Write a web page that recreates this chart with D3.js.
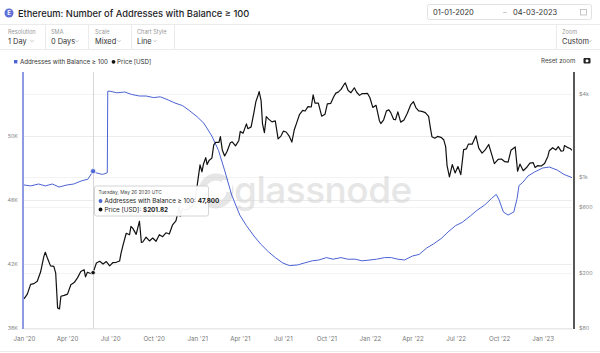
<!DOCTYPE html>
<html>
<head>
<meta charset="utf-8">
<script src="https://cdn.jsdelivr.net/npm/d3@7"></script>
<style>
  body { margin: 0; background: #fff; font-family: Inter, "Noto Sans", sans-serif; }
  svg text { font-family: Inter, "Noto Sans", sans-serif; }
</style>
</head>
<body>
<div id="svgOutput"></div>
<script>
// data

const addrDates = ["2020-01-01","2020-01-15","2020-02-01","2020-02-15","2020-03-01","2020-03-15","2020-04-01","2020-04-15","2020-05-01","2020-05-15","2020-05-26","2020-06-01","2020-06-15","2020-06-25","2020-06-26","2020-07-01","2020-07-15","2020-08-01","2020-08-15","2020-09-01","2020-09-15","2020-10-01","2020-10-15","2020-11-01","2020-11-15","2020-12-01","2020-12-15","2021-01-01","2021-01-15","2021-02-01","2021-02-15","2021-03-01","2021-03-15","2021-04-01","2021-04-15","2021-05-01","2021-05-15","2021-06-01","2021-06-15","2021-07-01","2021-07-15","2021-08-01","2021-08-15","2021-09-01","2021-09-15","2021-10-01","2021-10-15","2021-11-01","2021-11-15","2021-12-01","2021-12-15","2022-01-01","2022-01-15","2022-02-01","2022-02-15","2022-03-01","2022-03-15","2022-04-01","2022-04-15","2022-05-01","2022-05-15","2022-06-01","2022-06-15","2022-07-01","2022-07-15","2022-08-01","2022-08-15","2022-09-01","2022-09-15","2022-09-25","2022-10-01","2022-10-10","2022-10-20","2022-11-01","2022-11-08","2022-11-12","2022-11-20","2022-12-01","2022-12-15","2023-01-01","2023-01-15","2023-02-01","2023-02-15","2023-03-04"];
const addrValues = [46940,46880,47000,46880,47000,46810,46940,47000,47190,47300,47800,47700,47600,47700,52800,52800,52700,52750,52600,52500,52500,52400,52450,52250,52060,51900,51600,51200,50800,50000,49100,47750,46300,45060,44400,43750,43250,42750,42400,42060,41900,41940,42060,42200,42250,42400,42300,42400,42300,42300,42200,42250,42300,42400,42400,42300,42250,42500,42600,43000,43250,43600,44000,44400,44600,45000,45350,45700,46100,46350,46000,45250,45060,45250,46100,46900,47100,47500,47750,48000,48060,47870,47600,47400];

const priceDates = ["2020-01-01","2020-01-08","2020-01-15","2020-01-22","2020-01-29","2020-02-05","2020-02-12","2020-02-15","2020-02-19","2020-02-26","2020-03-04","2020-03-08","2020-03-12","2020-03-16","2020-03-19","2020-03-26","2020-04-02","2020-04-09","2020-04-16","2020-04-23","2020-04-30","2020-05-07","2020-05-10","2020-05-14","2020-05-21","2020-05-26","2020-06-02","2020-06-09","2020-06-16","2020-06-23","2020-06-30","2020-07-07","2020-07-14","2020-07-21","2020-07-24","2020-07-28","2020-08-04","2020-08-11","2020-08-14","2020-08-18","2020-08-25","2020-09-01","2020-09-05","2020-09-08","2020-09-15","2020-09-22","2020-09-29","2020-10-06","2020-10-13","2020-10-20","2020-10-27","2020-11-03","2020-11-10","2020-11-17","2020-11-24","2020-11-26","2020-12-01","2020-12-08","2020-12-15","2020-12-22","2020-12-29","2021-01-03","2021-01-07","2021-01-11","2021-01-14","2021-01-19","2021-01-22","2021-01-26","2021-02-01","2021-02-05","2021-02-09","2021-02-16","2021-02-19","2021-02-23","2021-02-28","2021-03-05","2021-03-12","2021-03-16","2021-03-23","2021-03-30","2021-04-02","2021-04-08","2021-04-15","2021-04-18","2021-04-25","2021-05-01","2021-05-05","2021-05-10","2021-05-12","2021-05-16","2021-05-19","2021-05-23","2021-05-27","2021-06-01","2021-06-08","2021-06-15","2021-06-21","2021-06-27","2021-07-02","2021-07-08","2021-07-14","2021-07-20","2021-07-25","2021-07-30","2021-08-05","2021-08-12","2021-08-17","2021-08-23","2021-08-30","2021-09-03","2021-09-07","2021-09-14","2021-09-21","2021-09-28","2021-10-03","2021-10-10","2021-10-17","2021-10-21","2021-10-26","2021-11-01","2021-11-08","2021-11-10","2021-11-16","2021-11-22","2021-11-29","2021-12-04","2021-12-10","2021-12-15","2021-12-21","2021-12-27","2022-01-01","2022-01-07","2022-01-14","2022-01-21","2022-01-24","2022-01-30","2022-02-05","2022-02-10","2022-02-14","2022-02-20","2022-02-24","2022-03-01","2022-03-07","2022-03-14","2022-03-21","2022-03-28","2022-04-03","2022-04-08","2022-04-14","2022-04-21","2022-04-28","2022-05-05","2022-05-09","2022-05-12","2022-05-18","2022-05-24","2022-05-31","2022-06-06","2022-06-10","2022-06-13","2022-06-18","2022-06-24","2022-06-30","2022-07-06","2022-07-12","2022-07-18","2022-07-24","2022-07-28","2022-08-05","2022-08-13","2022-08-19","2022-08-26","2022-09-02","2022-09-09","2022-09-15","2022-09-21","2022-09-29","2022-10-06","2022-10-13","2022-10-20","2022-10-26","2022-11-04","2022-11-09","2022-11-14","2022-11-21","2022-11-28","2022-12-05","2022-12-12","2022-12-16","2022-12-22","2022-12-29","2023-01-05","2023-01-12","2023-01-15","2023-01-22","2023-01-29","2023-02-03","2023-02-09","2023-02-14","2023-02-16","2023-02-22","2023-02-28","2023-03-03","2023-03-04"];
const priceValues = [130,141,166,168,175,204,265,284,260,226,224,200,112,110,136,138,141,165,171,185,206,212,188,203,199,202,237,244,233,243,226,239,240,245,279,317,390,380,437,423,383,477,335,337,365,343,360,341,381,368,393,385,449,480,604,518,588,575,590,612,731,975,1225,1090,1230,1380,1230,1315,1370,1710,1780,1780,1960,1570,1420,1530,1770,1800,1680,1840,2140,2080,2430,2240,2310,2950,3520,3950,4170,3580,2430,2100,2740,2630,2510,2550,1890,1980,2150,2120,1990,1790,2190,2460,2830,3040,3010,3240,3220,3940,3430,3430,2760,2850,3390,3420,3850,4060,4130,4320,4730,4810,4240,4090,4440,4120,3910,4020,4020,4040,3760,3200,3310,2560,2440,2600,3020,3070,2930,2620,2600,2970,2500,2590,2900,3330,3520,3190,3020,2990,2930,2750,2240,1960,1910,1970,1940,1860,1660,1210,1000,1230,1070,1190,1040,1580,1600,1730,1730,1990,1620,1490,1580,1720,1470,1250,1340,1350,1290,1280,1560,1650,1100,1240,1110,1170,1260,1270,1170,1210,1200,1250,1410,1550,1630,1570,1660,1540,1550,1690,1640,1610,1570,1565];

const leftTicks = [38000, 42000, 46000, 50000];
const leftTickLabels = ["38K", "42K", "46K", "50K"];
const rightTicks = [80, 200, 600, 1000, 4000];
const rightTickLabels = ["$80", "$200", "$600", "$1k", "$4k"];
const xTickDates = ["2020-01-01","2020-04-01","2020-07-01","2020-10-01","2021-01-01","2021-04-01","2021-07-01","2021-10-01","2022-01-01","2022-04-01","2022-07-01","2022-10-01","2023-01-01"];
const xTickLabels = ["Jan '20","Apr '20","Jul '20","Oct '20","Jan '21","Apr '21","Jul '21","Oct '21","Jan '22","Apr '22","Jul '22","Oct '22","Jan '23"];

const hoverDate = "2020-05-26";
const hoverTitle = "Tuesday, May 26 2020 UTC";
const hoverAddr = "47,800";
const hoverPrice = "$201.82";

// config

const width = 600;
const height = 353;
const plot = { top: 72, bottom: 328, left: 24, right: 572 };
const blue = "#4b63d3";
const parse = d3.utcParse("%Y-%m-%d");

const addrData = addrDates.map((d, i) => ({ date: parse(d), value: addrValues[i] }));
const priceData = priceDates.map((d, i) => ({ date: parse(d), value: priceValues[i] }));

// scales

const xScale = d3.scaleUtc()
  .domain([parse("2020-01-01"), parse("2023-03-04")])
  .range([plot.left, plot.right]);

const yLeft = d3.scaleLinear()
  .domain([38000, 54000])
  .range([plot.bottom, plot.top]);

const yRight = d3.scaleLog()
  .domain([80, 5780])
  .range([plot.bottom, plot.top]);

const svg = d3.select("#svgOutput")
  .append("svg")
  .attr("width", width)
  .attr("height", height)
  .attr("viewBox", [0, 0, width, height]);

// header

svg.append("circle").attr("cx", 9).attr("cy", 13).attr("r", 4.5).attr("fill", "#5f6fd8");
svg.append("text").attr("x", 9).attr("y", 15.3).attr("text-anchor", "middle")
  .attr("font-size", 6).attr("font-weight", 700).attr("fill", "#fff").text("E");
svg.append("text").attr("x", 18).attr("y", 16.5).attr("font-size", 9.3).attr("font-weight", 500)
  .attr("fill", "#1d1d1f").text("Ethereum: Number of Addresses with Balance ≥ 100");

svg.append("rect").attr("x", 427.5).attr("y", 4.5).attr("width", 164).attr("height", 15)
  .attr("rx", 2).attr("fill", "#fff").attr("stroke", "#e2e2e2");
svg.append("text").attr("x", 433).attr("y", 15).attr("font-size", 7.5).attr("fill", "#333").text("01-01-2020");
svg.append("text").attr("x", 503).attr("y", 15).attr("font-size", 7.5).attr("fill", "#aaa").text("–");
svg.append("text").attr("x", 513).attr("y", 15).attr("font-size", 7.5).attr("fill", "#333").text("04-03-2023");
svg.append("rect").attr("x", 580.5).attr("y", 9.5).attr("width", 6).attr("height", 5.5)
  .attr("fill", "none").attr("stroke", "#bbb").attr("stroke-width", 0.8);

svg.append("line").attr("x1", 0).attr("x2", width).attr("y1", 24.5).attr("y2", 24.5).attr("stroke", "#ebebeb");
svg.append("line").attr("x1", 0).attr("x2", width).attr("y1", 49.5).attr("y2", 49.5).attr("stroke", "#ebebeb");

const controls = [
  { x: 8, label: "Resolution", value: "1 Day", chev: 32 },
  { x: 51, label: "SMA", value: "0 Days", chev: 77 },
  { x: 95, label: "Scale", value: "Mixed", chev: 119 },
  { x: 137, label: "Chart Style", value: "Line", chev: 155 },
  { x: 562, label: "Zoom", value: "Custom", chev: 590 }
];
const sepX = [45, 88, 131, 174, 556];

svg.selectAll("line.sep")
  .data(sepX)
  .join("line")
  .attr("class", "sep")
  .attr("x1", d => d + 0.5).attr("x2", d => d + 0.5)
  .attr("y1", 25).attr("y2", 49)
  .attr("stroke", "#ebebeb");

const ctrl = svg.selectAll("g.ctrl")
  .data(controls)
  .join("g")
  .attr("class", "ctrl");
ctrl.append("text").attr("x", d => d.x).attr("y", 34).attr("font-size", 5.6).attr("fill", "#999").text(d => d.label);
ctrl.append("text").attr("x", d => d.x).attr("y", 44).attr("font-size", 7.4).attr("fill", "#333").text(d => d.value);
ctrl.append("path")
  .attr("d", d => `M${d.chev - 1.6},40.2 L${d.chev},41.8 L${d.chev + 1.6},40.2`)
  .attr("fill", "none").attr("stroke", "#aaa").attr("stroke-width", 0.7);

// legend

svg.append("rect").attr("x", 14).attr("y", 60).attr("width", 3.4).attr("height", 3.4).attr("fill", blue);
svg.append("text").attr("x", 20).attr("y", 63.6).attr("font-size", 6.2).attr("fill", "#333").text("Addresses with Balance ≥ 100");
svg.append("circle").attr("cx", 113.5).attr("cy", 61.8).attr("r", 1.9).attr("fill", "#111");
svg.append("text").attr("x", 117).attr("y", 63.6).attr("font-size", 6.2).attr("fill", "#333").text("Price [USD]");
svg.append("text").attr("x", 541).attr("y", 63.3).attr("font-size", 6.2).attr("fill", "#444").text("Reset zoom");
svg.append("rect").attr("x", 583.5).attr("y", 58).attr("width", 7).attr("height", 5.5).attr("rx", 1).attr("fill", "#222");
svg.append("circle").attr("cx", 587).attr("cy", 60.8).attr("r", 1.5).attr("fill", "#fff");

// grid

svg.selectAll("line.gridL")
  .data(leftTicks)
  .join("line")
  .attr("class", "gridL")
  .attr("x1", plot.left).attr("x2", plot.right)
  .attr("y1", d => Math.round(yLeft(d)) + 0.5).attr("y2", d => Math.round(yLeft(d)) + 0.5)
  .attr("stroke", "#ececec");

svg.selectAll("line.gridR")
  .data(rightTicks.slice(1))
  .join("line")
  .attr("class", "gridR")
  .attr("x1", plot.left).attr("x2", plot.right)
  .attr("y1", d => Math.round(yRight(d)) + 0.5).attr("y2", d => Math.round(yRight(d)) + 0.5)
  .attr("stroke", "#f3f3f3");

// watermark

const wm = svg.append("g").attr("opacity", 0.5);
wm.append("circle").attr("cx", 216).attr("cy", 191).attr("r", 14).attr("fill", "none")
  .attr("stroke", "#cfcfcf").attr("stroke-width", 7);
wm.append("rect").attr("x", 222).attr("y", 180).attr("width", 10).attr("height", 12).attr("fill", "#fff");
wm.append("text").attr("x", 234).attr("y", 203).attr("font-size", 37).attr("font-weight", 500)
  .attr("fill", "#cfcfcf").attr("letter-spacing", -0.5).text("glassnode");

// crosshair

const hx = Math.round(xScale(parse(hoverDate))) + 0.5;
svg.append("line").attr("x1", hx).attr("x2", hx).attr("y1", plot.top).attr("y2", plot.bottom + 1)
  .attr("stroke", "#d6d6d6");

// lines

const line = (yScale) => d3.line()
  .x(d => xScale(d.date))
  .y(d => yScale(d.value));

svg.append("path")
  .attr("d", line(yLeft)(addrData))
  .attr("fill", "none")
  .attr("stroke", blue)
  .attr("stroke-width", 1)
  .attr("stroke-linejoin", "round");

svg.append("path")
  .attr("d", line(yRight)(priceData))
  .attr("fill", "none")
  .attr("stroke", "#111")
  .attr("stroke-width", 1.2)
  .attr("stroke-linejoin", "round");

// axes

svg.append("line").attr("x1", plot.left - 1).attr("x2", plot.left - 1)
  .attr("y1", plot.top).attr("y2", plot.bottom + 1)
  .attr("stroke", "#8e9be3").attr("stroke-width", 2);
svg.append("line").attr("x1", plot.right + 2).attr("x2", plot.right + 2)
  .attr("y1", plot.top).attr("y2", plot.bottom + 1)
  .attr("stroke", "#111").attr("stroke-width", 1.4);

svg.append("g")
  .selectAll("text")
  .data(leftTicks)
  .join("text")
  .attr("x", 18).attr("y", d => yLeft(d) + 2)
  .attr("text-anchor", "end").attr("font-size", 5.4).attr("fill", "#888")
  .text((d, i) => leftTickLabels[i]);

svg.append("g")
  .selectAll("text")
  .data(rightTicks)
  .join("text")
  .attr("x", 579).attr("y", d => yRight(d) + 2)
  .attr("font-size", 5.4).attr("fill", "#888")
  .text((d, i) => rightTickLabels[i]);

const xAxis = d3.axisBottom(xScale)
  .tickValues(xTickDates.map(parse))
  .tickFormat((d, i) => xTickLabels[i])
  .tickSize(0)
  .tickPadding(8);

svg.append("g")
  .attr("transform", `translate(0, ${plot.bottom + 0.5})`)
  .call(xAxis)
  .call(g => g.select(".domain").attr("stroke", "#e6e6e6"))
  .call(g => g.selectAll(".tick text")
    .attr("font-size", 6.2)
    .attr("fill", "#777")
    .attr("font-family", "Inter, 'Noto Sans', sans-serif"));

// tooltip

svg.append("circle").attr("cx", xScale(parse(hoverDate))).attr("cy", yLeft(47800))
  .attr("r", 2.6).attr("fill", blue).attr("stroke", "#fff").attr("stroke-width", 0.8);
svg.append("circle").attr("cx", xScale(parse(hoverDate))).attr("cy", yRight(201.82))
  .attr("r", 2.2).attr("fill", "#111").attr("stroke", "#fff").attr("stroke-width", 0.8);

const tip = svg.append("g").attr("transform", `translate(${hx + 1}, 186)`);
tip.append("rect").attr("x", 0).attr("y", 0).attr("width", 114).attr("height", 30).attr("rx", 2)
  .attr("fill", "rgba(255,255,255,0.95)").attr("stroke", "#c9c9c9").attr("stroke-width", 0.8);
tip.append("text").attr("x", 4).attr("y", 8).attr("font-size", 4.8).attr("fill", "#444").text(hoverTitle);
tip.append("circle").attr("cx", 6).attr("cy", 15).attr("r", 1.9).attr("fill", blue);
tip.append("text").attr("x", 10).attr("y", 17).attr("font-size", 6.3).attr("fill", "#222")
  .text("Addresses with Balance ≥ 100: ")
  .append("tspan").attr("font-weight", 700).text(hoverAddr);
tip.append("circle").attr("cx", 6).attr("cy", 23.5).attr("r", 1.9).attr("fill", "#111");
tip.append("text").attr("x", 10).attr("y", 25.5).attr("font-size", 6.3).attr("fill", "#222")
  .text("Price [USD]: ")
  .append("tspan").attr("font-weight", 700).text(hoverPrice);

// bottom border
svg.append("line").attr("x1", 0).attr("x2", width).attr("y1", 351.5).attr("y2", 351.5).attr("stroke", "#ebebeb");
</script>
</body>
</html>
